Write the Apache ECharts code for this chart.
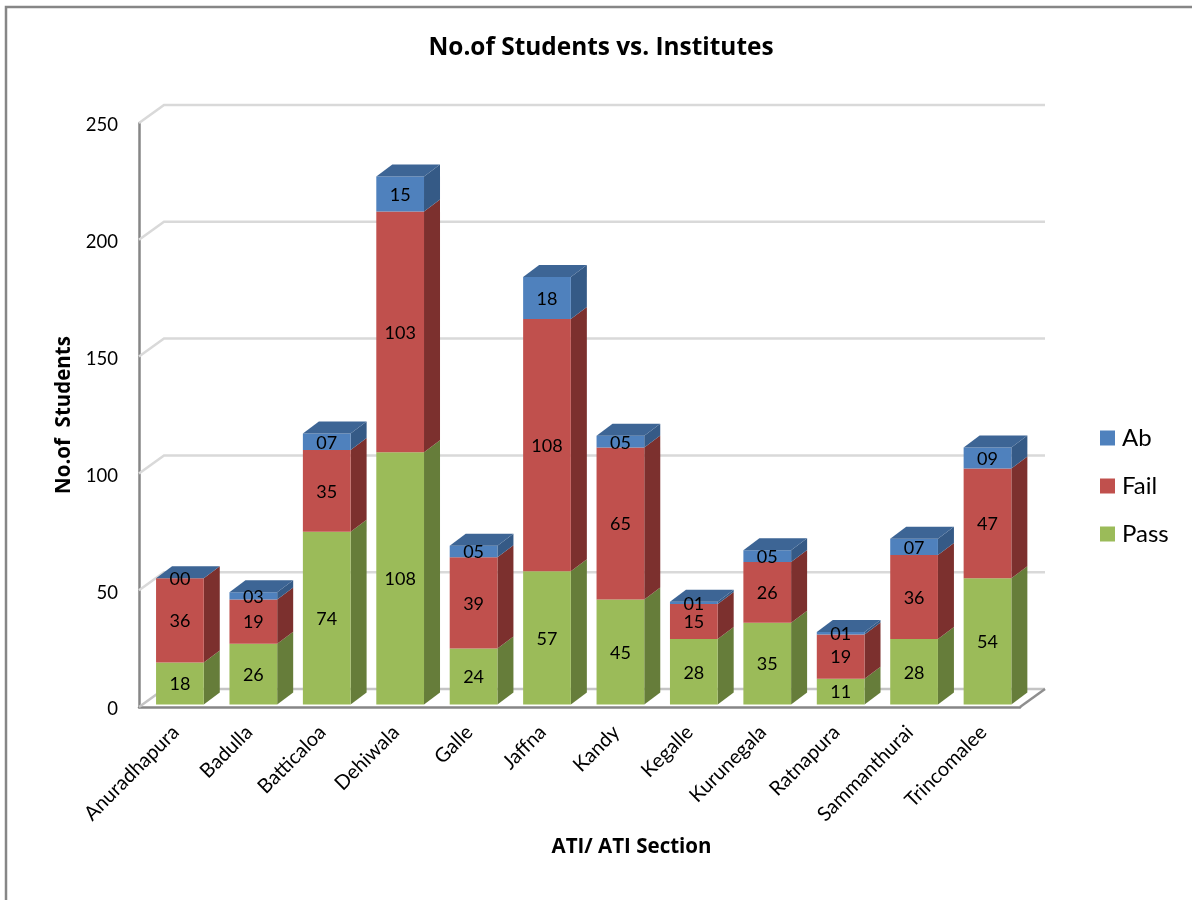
<!DOCTYPE html>
<html>
<head>
<meta charset="utf-8">
<style>html,body{margin:0;padding:0;background:#fff}#c{width:1192px;height:900px}</style>
<script src="https://cdn.jsdelivr.net/npm/echarts@6/dist/echarts.min.js"></script>
</head>
<body>
<div id="c"></div>
<script>
const categories = ['Anuradhapura','Badulla','Batticaloa','Dehiwala','Galle','Jaffna','Kandy','Kegalle','Kurunegala','Ratnapura','Sammanthurai','Trincomalee'];
const pass = [18,26,74,108,24,57,45,28,35,11,28,54];
const fail = [36,19,35,103,39,108,65,15,26,19,36,47];
const ab   = [0,3,7,15,5,18,5,1,5,1,7,9];
const yTicks = [0,50,100,150,200,250];

const FONT = 'Lato';
const wallDx = 25, wallDy = 18;   // projection of the back wall
const barDx = 16, barDy = 12;     // depth of a bar
const barOffX = 4.2, barOffY = -2.5;

function wallItem(params, api) {
  const v = api.value(0);
  const cs = params.coordSys;
  const y = api.coord([0, v])[1];
  const x0 = cs.x, x1 = cs.x + cs.width;
  const children = [];
  if (v === 0) {
    children.push({type:'polyline', shape:{points:[[x0,y],[x0+wallDx,y-wallDy],[x1+wallDx,y-wallDy]]}, style:{fill:'none',stroke:'#c4c4c4',lineWidth:2.5}});
    children.push({type:'line', shape:{x1:x1,y1:y,x2:x1+wallDx,y2:y-wallDy}, style:{stroke:'#8f8f8f',lineWidth:2.5}});
  } else {
    children.push({type:'polyline', shape:{points:[[x0,y],[x0+wallDx,y-wallDy],[x1+wallDx,y-wallDy]]}, style:{fill:'none',stroke:'#d9d9d9',lineWidth:2.5}});
  }
  return {type:'group', children};
}

function barRenderer(front, side, top) {
  return function (params, api) {
    const i = api.value(0), base = api.value(1), end = api.value(2), val = api.value(3);
    const w = api.size([1,0])[0] * 0.65;
    const pb = api.coord([i, base]), pe = api.coord([i, end]);
    const xl = pb[0] - w/2 + barOffX, xr = xl + w;
    const yb = pb[1] + barOffY, yt = pe[1] + barOffY;
    const children = [
      {type:'polygon', shape:{points:[[xr,yb],[xr+barDx,yb-barDy],[xr+barDx,yt-barDy],[xr,yt]]}, style:{fill:side}},
      {type:'rect', shape:{x:xl,y:yt,width:w,height:yb-yt}, style:{fill:front}}
    ];
    if (top) {
      children.push({type:'polygon', shape:{points:[[xl,yt],[xr,yt],[xr+barDx,yt-barDy],[xl+barDx,yt-barDy]]}, style:{fill:top}});
    }
    children.push({type:'text', style:{text:String(val).padStart(2,'0'), x:(xl+xr)/2, y:(yb+yt)/2+1, align:'center', verticalAlign:'middle', font:'18px '+FONT, fill:'#000'}, z2:10});
    return {type:'group', children};
  };
}

function stackData(values, bases) {
  return values.map((v,i)=>[i, bases[i], bases[i]+v, v]);
}
const passBase = pass.map(()=>0);
const failBase = pass.slice();
const abBase = pass.map((p,i)=>p+fail[i]);

const chart = echarts.init(document.getElementById('c'), null, {renderer:'canvas'});
chart.setOption({
  animation:false,
  backgroundColor:'#fff',
  textStyle:{fontFamily:FONT,color:'#000'},
  title:{text:'No.of Students vs. Institutes', left:596, top:31, textAlign:'center',
    textStyle:{fontFamily:'Open Sans',fontWeight:'bold',fontSize:24.4,color:'#000'}},
  grid:{left:139,right:172,top:123,bottom:193,containLabel:false},
  legend:{data:['Ab','Fail','Pass'], orient:'vertical', left:1095, top:421, icon:'rect', itemWidth:15, itemHeight:15, itemGap:24,
    selectedMode:false, textStyle:{fontFamily:FONT,fontSize:24,color:'#000',padding:[0,0,0,2]}},
  graphic:[{type:'polyline', shape:{points:[[6,900],[6,7],[1192,7]]}, style:{fill:'none',stroke:'#868686',lineWidth:2.5}, silent:true}],
  xAxis:{type:'category', data:categories, boundaryGap:true,
    name:'ATI/ ATI Section', nameLocation:'middle', nameGap:130,
    nameTextStyle:{fontFamily:'Open Sans',fontWeight:'bold',fontSize:20.5,color:'#000',padding:[0,0,0,104]},
    axisLine:{show:true,lineStyle:{color:'#868686',width:2.5}}, axisTick:{show:false},
    axisLabel:{rotate:45, margin:22, interval:0, fontFamily:FONT, fontSize:20, color:'#000'}},
  yAxis:{type:'value', min:0, max:250, interval:50,
    name:'No.of  Students', nameLocation:'middle', nameRotate:90, nameGap:64,
    nameTextStyle:{fontFamily:'Open Sans',fontWeight:'bold',fontSize:20.5,color:'#000'},
    axisLine:{show:true,lineStyle:{color:'#868686',width:2.5}}, axisTick:{show:false}, splitLine:{show:false},
    axisLabel:{margin:21, color:'#000', formatter:'{a|{value}}',
      rich:{a:{fontFamily:FONT, fontSize:18.5, color:'#000', padding:[5,0,0,0]}}}},
  series:[
    {type:'custom', name:'wall', silent:true, clip:false, z:1, renderItem:wallItem, encode:{y:0}, data:yTicks.map(v=>[v])},
    {type:'custom', name:'Pass', clip:false, z:2, itemStyle:{color:'#9BBB59'}, encode:{x:0,y:[1,2]}, renderItem:barRenderer('#9BBB59','#667D3A',null), data:stackData(pass,passBase)},
    {type:'custom', name:'Fail', clip:false, z:3, itemStyle:{color:'#C0504D'}, encode:{x:0,y:[1,2]}, renderItem:barRenderer('#C0504D','#7C302E',null), data:stackData(fail,failBase)},
    {type:'custom', name:'Ab', clip:false, z:4, itemStyle:{color:'#4F81BD'}, encode:{x:0,y:[1,2]}, renderItem:barRenderer('#4F81BD','#355A86','#3D6595'), data:stackData(ab,abBase)}
  ]
});
</script>
</body>
</html>
